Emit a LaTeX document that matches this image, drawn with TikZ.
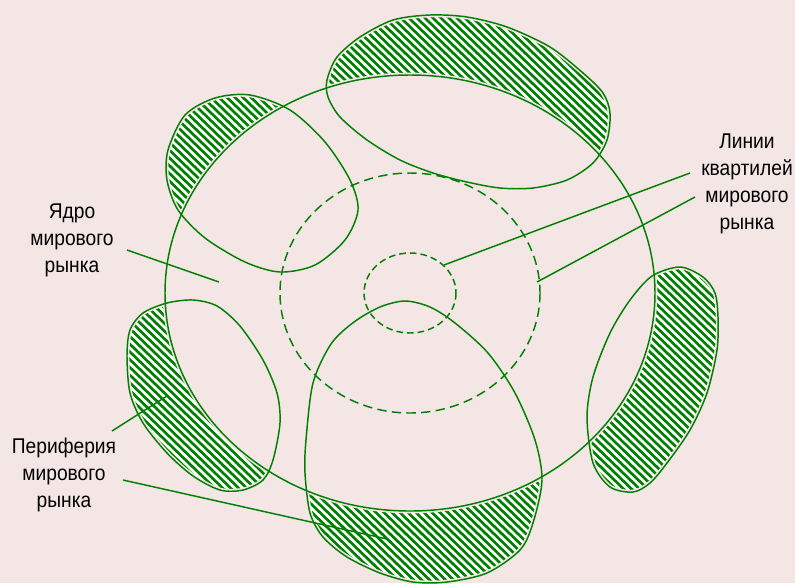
\documentclass[tikz,border=0pt]{standalone}
\usepackage{fontspec}
\newfontfamily\labelfont[FakeStretch=0.9]{Liberation Sans}
\definecolor{mgreen}{RGB}{0,128,0}
\definecolor{bgpink}{RGB}{245,230,230}
\tikzset{
    outline/.style={draw=mgreen, line width=1.1pt},
    halo/.style={draw=bgpink, line width=3.5pt},
    stripe/.style={draw=mgreen, line width=2pt},
    leader/.style={draw=mgreen, line width=1.1pt},
    lbl/.style={align=center, anchor=base, inner sep=0pt, text=black,
        font=\labelfont\fontsize{16}{20.25}\selectfont},
}
% outlines of the five peripheral regions
\newcommand{\blobN}{plot[smooth cycle] coordinates {(327,80) (337,57) (360,37) (393,20) (430,15) (467,17) (507,27) (550,47) (583,73) (603,93) (610,113) (607,140) (593,163) (567,180) (533,188) (500,188) (467,182) (433,173) (400,160) (367,140) (340,117) (328,97)}}
\newcommand{\blobNW}{plot[smooth cycle] coordinates {(168,150) (185,115) (215,98) (250,95) (290,110) (325,142) (350,180) (358,210) (345,240) (315,265) (280,272) (245,262) (205,238) (178,210) (167,180)}}
\newcommand{\blobSW}{plot[smooth cycle] coordinates {(130,330) (143,313) (167,303) (193,300) (217,306) (240,326) (263,360) (277,393) (280,423) (273,460) (263,480) (243,490) (220,490) (193,476) (167,453) (143,423) (130,393) (127,356)}}
\newcommand{\blobS}{plot[smooth cycle] coordinates {(405,301) (430,307) (455,323) (488,353) (515,393) (535,440) (542,480) (533,523) (520,550) (487,573) (447,582) (413,582) (380,573) (347,557) (323,537) (310,513) (305,473) (306,440) (313,383) (331,344) (354,322) (380,307)}}
\newcommand{\blobE}{plot[smooth cycle] coordinates {(680,267) (703,277) (715,293) (718,317) (717,350) (707,393) (690,430) (667,463) (650,483) (633,492) (610,487) (593,463) (587,417) (593,377) (610,333) (630,300) (652,276)}}
\begin{document}
\begin{tikzpicture}[x=0.75pt, y=-0.75pt]
    \fill[bgpink] (0,0) rectangle (795,583);
    \useasboundingbox (0,0) rectangle (795,583);
    \coordinate (c) at (410,293);

    % hatching outside the core
    \begin{scope}[even odd rule]
        \clip (-20,-20) rectangle (815,603) (c) ellipse [x radius=245, y radius=218];
        \foreach \b in {\blobN, \blobNW, \blobSW, \blobS, \blobE} {
            \begin{scope}[nonzero rule]
                \clip \b;
                \fill[white] (0,0) rectangle (795,583);
                \foreach \k in {-620,-612,...,800}
                    \draw[stripe] (\k,-10) -- ++(620,600);
            \end{scope}
        }
    \end{scope}

    \draw[halo] (c) ellipse [x radius=245, y radius=218];
    \draw[halo] \blobN;
    \draw[halo] \blobNW;
    \draw[halo] \blobSW;
    \draw[halo] \blobS;
    \draw[halo] \blobE;

    \draw[outline] (c) ellipse [x radius=245, y radius=218];
    \draw[outline, dash pattern=on 7pt off 4pt] (c) ellipse [x radius=130, y radius=120];
    \draw[outline, dash pattern=on 5pt off 3pt] (c) ellipse [x radius=46, y radius=40];
    \draw[outline] \blobN;
    \draw[outline] \blobNW;
    \draw[outline] \blobSW;
    \draw[outline] \blobS;
    \draw[outline] \blobE;

    \node[lbl] (core) at (72,272) {Ядро\\мирового\\рынка};
    \node[lbl] (quart) at (747,229) {Линии\\квартилей\\мирового\\рынка};
    \node[lbl] (periph) at (64,507) {Периферия\\мирового\\рынка};

    \coordinate (coreA) at (127,250);
    \coordinate (coreB) at (219,282);
    \coordinate (quartA) at (690,173);
    \coordinate (quartB) at (444,265);
    \coordinate (quartC) at (695,197);
    \coordinate (quartD) at (537,282);
    \coordinate (periphA) at (112,431);
    \coordinate (periphB) at (167,396);
    \coordinate (periphC) at (123,480);
    \coordinate (periphD) at (387,539);
    \draw[leader] (coreA) -- (coreB);
    \draw[leader] (quartA) -- (quartB);
    \draw[leader] (quartC) -- (quartD);
    \draw[leader] (periphA) -- (periphB);
    \draw[leader] (periphC) -- (periphD);
\end{tikzpicture}
\end{document}
